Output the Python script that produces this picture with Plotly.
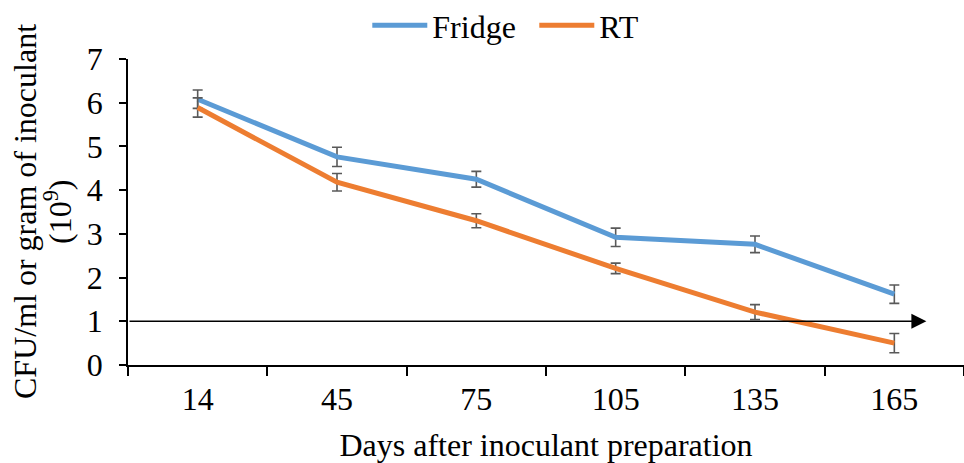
import plotly.graph_objects as go

# Days after inoculant preparation (category labels)
days = ["14", "45", "75", "105", "135", "165"]

# Viable count, CFU per ml or gram (x 10^9)
fridge = [6.08, 4.76, 4.25, 2.92, 2.76, 1.62]
fridge_err = [0.21, 0.22, 0.18, 0.21, 0.19, 0.21]

rt = [5.89, 4.18, 3.30, 2.21, 1.21, 0.50]
rt_err = [0.22, 0.20, 0.16, 0.12, 0.17, 0.22]

# Reference level marked with an arrow
threshold = 1

# Y-axis title, one entry per line
y_title_lines = ["CFU/ml or gram of inoculant", "(10<sup>9</sup>)"]

FONT = "Liberation Serif"
FS = 32
ERR_COLOR = "#595959"

fig = go.Figure()

fig.add_trace(go.Scatter(
    x=days, y=fridge, name="Fridge", mode="lines",
    line=dict(color="#5B9BD5", width=5),
    error_y=dict(type="data", array=fridge_err, visible=True,
                 color=ERR_COLOR, thickness=1.6, width=5),
))
fig.add_trace(go.Scatter(
    x=days, y=rt, name="RT", mode="lines",
    line=dict(color="#ED7D31", width=5),
    error_y=dict(type="data", array=rt_err, visible=True,
                 color=ERR_COLOR, thickness=1.6, width=5),
))

# Horizontal arrow at the reference level
fig.add_annotation(
    x=0.955, y=threshold, xref="x domain", yref="y",
    ax=0.0, ay=threshold, axref="x domain", ayref="y",
    showarrow=True, arrowhead=2, arrowsize=2, arrowwidth=1.5,
    arrowcolor="black", text="",
)

# Rotated y-axis title, drawn line by line
for line_text, shift in zip(y_title_lines, [-103, -70]):
    fig.add_annotation(
        text=line_text,
        xref="paper", yref="paper", x=0, y=0.5,
        xanchor="center", yanchor="middle", xshift=shift,
        textangle=-90, showarrow=False,
        font=dict(family=FONT, size=FS, color="black"),
    )

fig.update_layout(
    width=964, height=463,
    margin=dict(l=128, r=0, t=59, b=98, autoexpand=False),
    paper_bgcolor="white", plot_bgcolor="white",
    font=dict(family=FONT, size=FS, color="black"),
    showlegend=True,
    legend=dict(orientation="h", x=0.486, xanchor="center",
                y=1.11, yanchor="middle", yref="paper",
                itemwidth=55, entrywidth=97,
                font=dict(family=FONT, size=FS, color="black")),
    xaxis=dict(
        type="category", range=[-0.5, 5.5],
        showline=True, linecolor="black", linewidth=1.5,
        ticks="outside", tickson="boundaries", ticklen=9,
        tickcolor="black", tickwidth=1.5, showgrid=False,
        ticklabelstandoff=5,
        tickfont=dict(family=FONT, size=FS, color="black"),
        title=dict(text="Days after inoculant preparation",
                   font=dict(family=FONT, size=FS, color="black"),
                   standoff=20),
    ),
    yaxis=dict(
        range=[0, 7], dtick=1,
        showline=True, linecolor="black", linewidth=1.5,
        ticks="outside", ticklen=7, tickcolor="black", tickwidth=1.5,
        ticklabelstandoff=10,
        tickfont=dict(family=FONT, size=FS, color="black"),
        showgrid=False, zeroline=False,
    ),
)

fig.write_html("out.html")
